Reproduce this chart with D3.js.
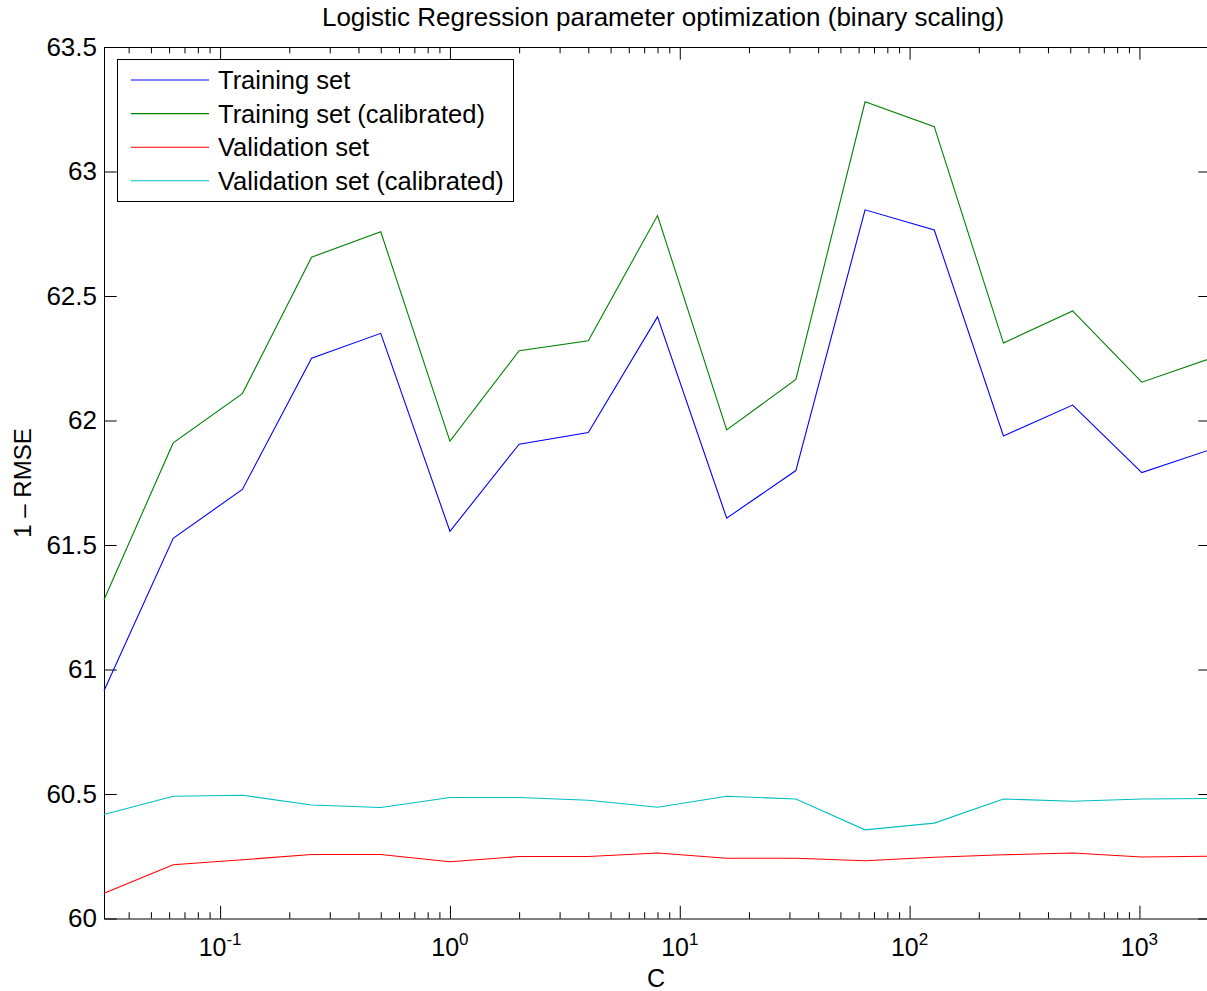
<!DOCTYPE html>
<html>
<head>
<meta charset="utf-8">
<script src="https://cdn.jsdelivr.net/npm/d3@7"></script>
<style>
  html, body { margin: 0; padding: 0; background: #fff; }
  svg { display: block; }
  text { font-family: "Liberation Sans", Arial, Helvetica, sans-serif; fill: #000; }
</style>
</head>
<body>
<svg id="chart" width="1207" height="991"></svg>
<script>
// ---- data ----
const C = [0.03125, 0.0625, 0.125, 0.25, 0.5, 1, 2, 4, 8, 16, 32, 64, 128, 256, 512, 1024, 2048];
const trainingSet = [60.915, 61.527, 61.723, 62.25, 62.35, 61.555, 61.905, 61.952, 62.416, 61.608, 61.799, 62.846, 62.765, 61.938, 62.062, 61.791, 61.884];
const trainingSetCalibrated = [61.28, 61.91, 62.108, 62.656, 62.758, 61.917, 62.28, 62.32, 62.823, 61.962, 62.165, 63.28, 63.18, 62.311, 62.44, 62.154, 62.25];
const validationSet = [60.101, 60.216, 60.236, 60.257, 60.257, 60.228, 60.249, 60.249, 60.263, 60.242, 60.242, 60.232, 60.246, 60.256, 60.263, 60.247, 60.25];
const validationSetCalibrated = [60.418, 60.491, 60.495, 60.456, 60.446, 60.486, 60.486, 60.475, 60.447, 60.491, 60.48, 60.356, 60.383, 60.48, 60.471, 60.48, 60.482];
const seriesNames = ["Training set", "Training set (calibrated)", "Validation set", "Validation set (calibrated)"];
const seriesColors = ["#0000ff", "#008000", "#ff0000", "#00bfbf"];
const xMajorTicks = [0.1, 1, 10, 100, 1000];
const xMajorExponents = ["-1", "0", "1", "2", "3"];
const yTicks = [60, 60.5, 61, 61.5, 62, 62.5, 63, 63.5];
const yTickLabels = ["60", "60.5", "61", "61.5", "62", "62.5", "63", "63.5"];
const titleText = "Logistic Regression parameter optimization (binary scaling)";
const xLabel = "C";
const yLabel = "1 \u2013 RMSE";

// ---- layout ----
const L = 104, R = 1211, T = 47, B = 918.5;
const svg = d3.select("#chart");
const x = d3.scaleLog().domain([C[0], C[C.length - 1]]).range([L, R]);
const y = d3.scaleLinear().domain([60, 63.5]).range([B, T]);

const majorLen = 12.7, minorLen = 6.3;
const minorTicks = [];
for (let e = -2; e <= 3; e++) for (let m = 2; m <= 9; m++) {
  const v = m * Math.pow(10, e);
  if (v >= C[0] && v <= C[C.length - 1]) minorTicks.push(v);
}

// axes (ticks inward)
function styleAxis(g) {
  g.selectAll("path.domain").attr("stroke", "#000").attr("stroke-width", 1);
  g.selectAll(".tick line").attr("stroke", "#000").attr("stroke-width", 1);
}
svg.append("g").attr("transform", `translate(0,${B})`)
  .call(d3.axisBottom(x).tickValues(xMajorTicks).tickSize(-majorLen).tickSizeOuter(0).tickFormat(""))
  .call(styleAxis);
svg.append("g").attr("transform", `translate(0,${B})`)
  .call(d3.axisBottom(x).tickValues(minorTicks).tickSize(-minorLen).tickSizeOuter(0).tickFormat(""))
  .call(g => g.select("path.domain").remove()).call(styleAxis);
svg.append("g").attr("transform", `translate(0,${T})`)
  .call(d3.axisTop(x).tickValues(xMajorTicks).tickSize(-majorLen).tickSizeOuter(0).tickFormat(""))
  .call(styleAxis);
svg.append("g").attr("transform", `translate(0,${T})`)
  .call(d3.axisTop(x).tickValues(minorTicks).tickSize(-minorLen).tickSizeOuter(0).tickFormat(""))
  .call(g => g.select("path.domain").remove()).call(styleAxis);
svg.append("g").attr("transform", `translate(${L},0)`)
  .call(d3.axisLeft(y).tickValues(yTicks).tickSize(-majorLen).tickSizeOuter(0).tickPadding(7)
    .tickFormat((d, i) => yTickLabels[i]))
  .call(styleAxis)
  .call(g => g.selectAll("text").attr("font-size", 26).attr("font-family", "Liberation Sans, Arial, sans-serif").attr("fill", "#000"));
svg.append("g").attr("transform", `translate(${R},0)`)
  .call(d3.axisRight(y).tickValues(yTicks).tickSize(-majorLen).tickSizeOuter(0).tickFormat(""))
  .call(styleAxis);

// x tick labels with superscripts
const xl = svg.append("g");
xMajorTicks.forEach((v, i) => {
  const t = xl.append("text").attr("x", x(v)).attr("y", 956).attr("text-anchor", "middle").attr("font-size", 25);
  t.append("tspan").text("10");
  t.append("tspan").attr("dy", -11).attr("font-size", 17).text(xMajorExponents[i]);
});

// lines
const allSeries = [trainingSet, trainingSetCalibrated, validationSet, validationSetCalibrated];
const line = d3.line().x((d, i) => x(C[i])).y(d => y(d));
allSeries.forEach((s, i) => {
  svg.append("path").datum(s).attr("d", line).attr("fill", "none")
    .attr("stroke", seriesColors[i]).attr("stroke-width", 1.1);
});

// title and labels
svg.append("text").attr("x", 663).attr("y", 26).attr("text-anchor", "middle").attr("font-size", 26).text(titleText);
svg.append("text").attr("x", 656).attr("y", 987).attr("text-anchor", "middle").attr("font-size", 25).text(xLabel);
svg.append("text").attr("transform", "translate(31,483) rotate(-90)").attr("text-anchor", "middle").attr("font-size", 24).text(yLabel);

// legend
const lg = svg.append("g");
lg.append("rect").attr("x", 117.5).attr("y", 59.5).attr("width", 396).attr("height", 142)
  .attr("fill", "#fff").attr("stroke", "#000").attr("stroke-width", 1);
seriesNames.forEach((n, i) => {
  const cy = 80 + i * 33.6;
  lg.append("line").attr("x1", 131).attr("x2", 209).attr("y1", cy).attr("y2", cy)
    .attr("stroke", seriesColors[i]).attr("stroke-width", 1.1);
  lg.append("text").attr("x", 218).attr("y", cy + 9).attr("font-size", 25.5).text(n);
});
</script>
</body>
</html>
